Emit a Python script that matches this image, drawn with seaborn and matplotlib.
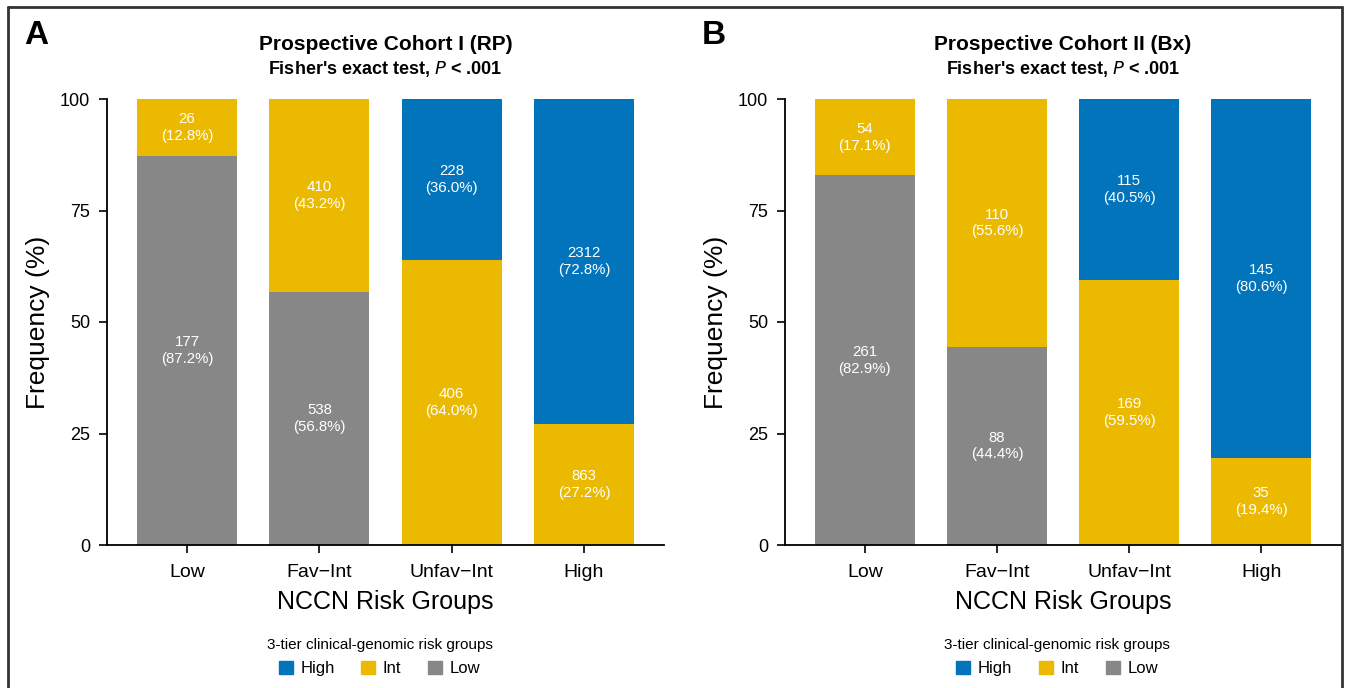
import matplotlib
matplotlib.use("Agg")
import matplotlib.pyplot as plt
import seaborn as sns
import pandas as pd

# NCCN risk groups on the x axis
categories = ["Low", "Fav\u2212Int", "Unfav\u2212Int", "High"]

# Prospective Cohort I (RP): counts and percentages per genomic risk tier
rp_low_n = [177, 538, 0, 0]
rp_low_pct = [87.2, 56.8, 0.0, 0.0]
rp_int_n = [26, 410, 406, 863]
rp_int_pct = [12.8, 43.2, 64.0, 27.2]
rp_high_n = [0, 0, 228, 2312]
rp_high_pct = [0.0, 0.0, 36.0, 72.8]

# Prospective Cohort II (Bx)
bx_low_n = [261, 88, 0, 0]
bx_low_pct = [82.9, 44.4, 0.0, 0.0]
bx_int_n = [54, 110, 169, 35]
bx_int_pct = [17.1, 55.6, 59.5, 19.4]
bx_high_n = [0, 0, 115, 145]
bx_high_pct = [0.0, 0.0, 40.5, 80.6]

yticks = [0, 25, 50, 75, 100]

C_HIGH = "#0174BB"
C_INT = "#EBBA00"
C_LOW = "#878787"

W, H = 1347, 688

sns.set_theme(style="white")
REG = ["Liberation Sans", "DejaVu Sans"]
plt.rcParams["font.family"] = REG
plt.rcParams["text.color"] = "black"
plt.rcParams["axes.labelcolor"] = "black"

fig = plt.figure(figsize=(W / 100, H / 100), dpi=100)


def fx(x):
    return x / W


def fy(y):
    return 1 - y / H


def draw_panel(left_px, right_px, letter, title, low_n, low_pct, int_n, int_pct, high_n, high_pct):
    ax = fig.add_axes([fx(left_px), fy(545), (right_px - left_px) / W, (545 - 99) / H])
    df = pd.DataFrame({
        "group": categories,
        "low": low_pct,
        "int": int_pct,
        "high": high_pct,
    })
    df["top_int"] = df["low"] + df["int"]
    df["top_high"] = df["top_int"] + df["high"]

    bw = 0.756
    bar_kw = dict(width=bw, saturation=1, ax=ax, order=categories, linewidth=0,
                  edgecolor="none")
    sns.barplot(data=df, x="group", y="top_high", color=C_HIGH, **bar_kw)
    sns.barplot(data=df, x="group", y="top_int", color=C_INT, **bar_kw)
    sns.barplot(data=df, x="group", y="low", color=C_LOW, **bar_kw)

    # segment labels: count and percentage centred in each segment
    for i in range(len(categories)):
        segs = [
            (0, low_pct[i], low_n[i]),
            (low_pct[i], int_pct[i], int_n[i]),
            (low_pct[i] + int_pct[i], high_pct[i], high_n[i]),
        ]
        for base, h, n in segs:
            if h <= 0:
                continue
            ax.text(i, base + h / 2, f"{n}\n({h:.1f}%)", ha="center", va="center",
                    color="white", fontsize=10.8, linespacing=1.25)

    ax.set_xlim(-0.605, 3.605)
    ax.set_ylim(0, 100)
    ax.set_yticks(yticks)
    ax.set_yticklabels([str(t) for t in yticks], fontsize=13)
    ax.set_xticks(range(len(categories)))
    ax.set_xticklabels(categories, fontsize=14)
    ax.tick_params(axis="both", direction="out", length=6, width=1.2, color="black",
                   left=True, bottom=True, pad=6, labelcolor="black")
    ax.tick_params(axis="x", pad=8)
    sns.despine(ax=ax)
    for s in ("left", "bottom"):
        ax.spines[s].set_color("black")
        ax.spines[s].set_linewidth(1.3)
    ax.set_xlabel("NCCN Risk Groups", fontsize=18, labelpad=6)
    ax.set_ylabel("Frequency (%)", fontsize=19, labelpad=7)

    cx = (left_px + right_px) / 2
    fig.text(fx(cx), fy(45), title, ha="center", va="center", fontsize=15,
             fontweight="bold")
    fig.text(fx(cx), fy(69), "Fisher's exact test, $\\bf{\\it{P}}$ < .001", ha="center",
             va="center", fontsize=13, fontweight="bold")
    fig.text(fx(left_px - 83), fy(36), letter, ha="left", va="center", fontsize=24,
             fontweight="bold")

    handles = [
        plt.Rectangle((0, 0), 1, 1, color=C_HIGH),
        plt.Rectangle((0, 0), 1, 1, color=C_INT),
        plt.Rectangle((0, 0), 1, 1, color=C_LOW),
    ]
    fig.legend(handles, ["High", "Int", "Low"], ncol=3, frameon=False,
               title="3-tier clinical-genomic risk groups", title_fontsize=11,
               fontsize=12, loc="center", bbox_to_anchor=(fx(cx - 6), fy(657)),
               handlelength=0.85, handleheight=0.85, handletextpad=0.45,
               columnspacing=1.6, borderpad=0, labelspacing=0.55)
    return ax


draw_panel(107, 664, "A", "Prospective Cohort I (RP)",
           rp_low_n, rp_low_pct, rp_int_n, rp_int_pct, rp_high_n, rp_high_pct)
draw_panel(785, 1341, "B", "Prospective Cohort II (Bx)",
           bx_low_n, bx_low_pct, bx_int_n, bx_int_pct, bx_high_n, bx_high_pct)

# frame around the figure (open at the bottom edge)
frame_kw = dict(color="#333333", linewidth=2, transform=fig.transFigure)
fig.add_artist(plt.Line2D([fx(8), fx(8)], [0, fy(7)], **frame_kw))
fig.add_artist(plt.Line2D([fx(8), fx(1342)], [fy(7), fy(7)], **frame_kw))
fig.add_artist(plt.Line2D([fx(1342), fx(1342)], [fy(7), 0], **frame_kw))

fig.savefig("out.png", dpi=100)
